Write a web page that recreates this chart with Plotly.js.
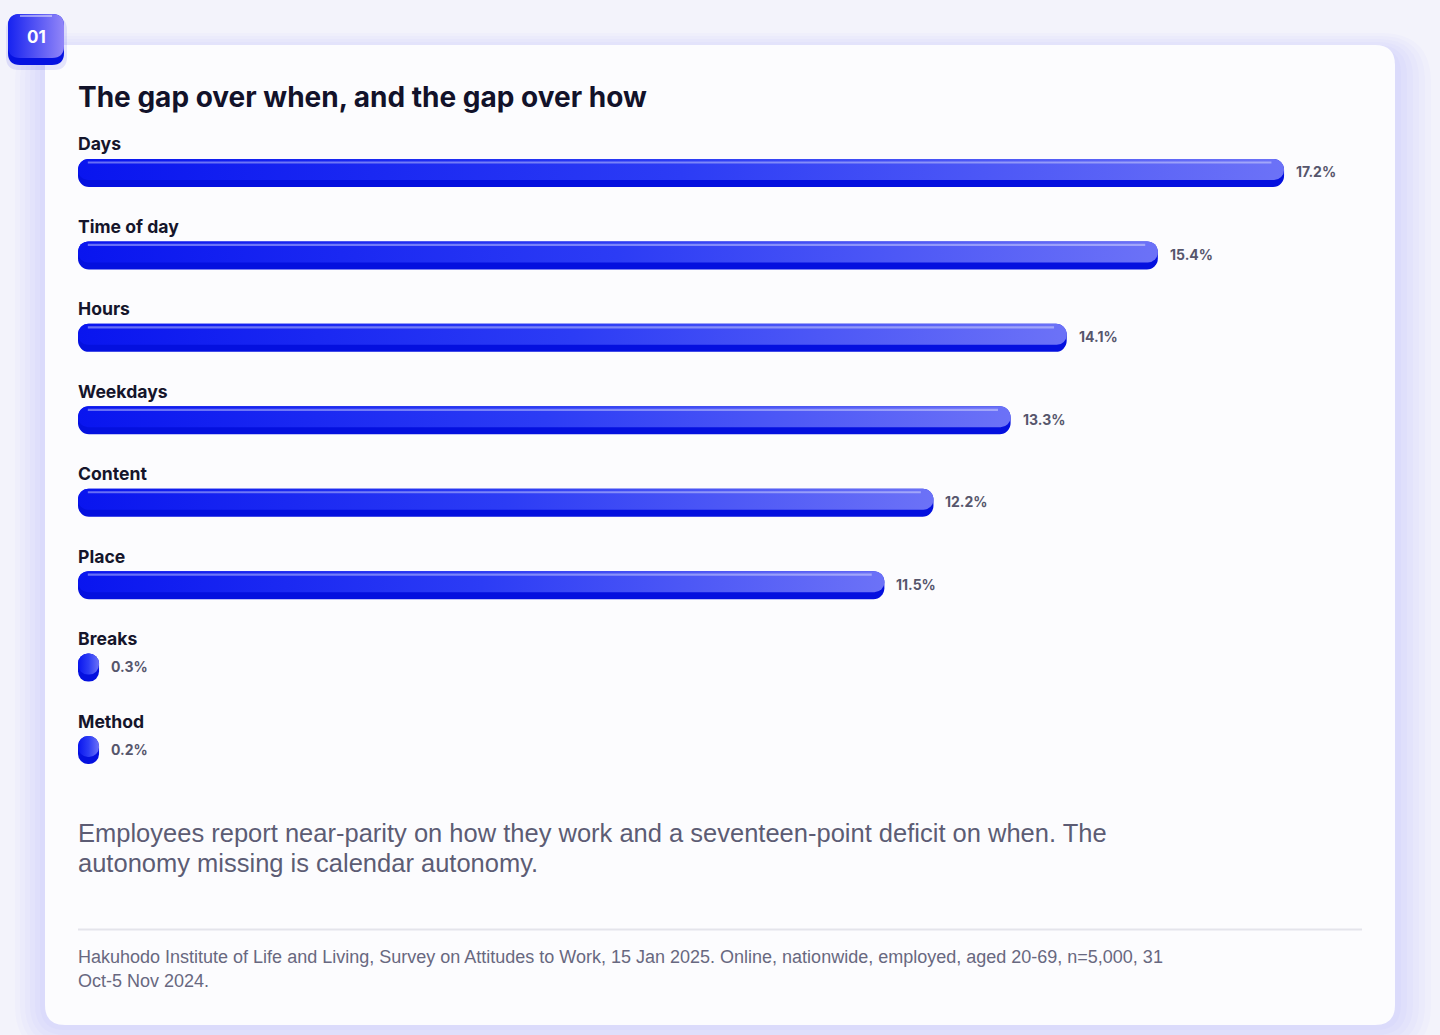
<!DOCTYPE html>
<html>
<head>
<meta charset="utf-8">
<script src="https://cdn.plot.ly/plotly-3.0.1.min.js"></script>
<style>
  html, body { margin: 0; padding: 0; background: #f3f3fb; }
  #chart { width: 1440px; height: 1035px; }
</style>
</head>
<body>
<div id="chart"></div>
<script>
// data
const categories = ['Days', 'Time of day', 'Hours', 'Weekdays', 'Content', 'Place', 'Breaks', 'Method'];
const gapValues = [17.2, 15.4, 14.1, 13.3, 12.2, 11.5, 0.3, 0.2];
const valueLabels = ['17.2%', '15.4%', '14.1%', '13.3%', '12.2%', '11.5%', '0.3%', '0.2%'];
const chartTitle = 'The gap over when, and the gap over how';
const captionLines = [
    'Employees report near-parity on how they work and a seventeen-point deficit on when. The',
    'autonomy missing is calendar autonomy.'
];
const sourceLines = [
    'Hakuhodo Institute of Life and Living, Survey on Attitudes to Work, 15 Jan 2025. Online, nationwide, employed, aged 20-69, n=5,000, 31',
    'Oct-5 Nov 2024.'
];
const badgeText = '01';

// page geometry (pixels -> paper)
const W = 1440, H = 1035;
const px = x => x / W;
const py = y => 1 - y / H;

// tiny values still get drawn as a small pill
const MIN_PILL = 0.3;
const drawn = gapValues.map(v => Math.max(v, MIN_PILL));
const zeros = drawn.map(() => 0);
const glint = drawn.map(v => v > 1 ? v - 0.32 : null);

function rrect(x0, y0, x1, y1, r) {
    const X = v => px(v).toFixed(5), Y = v => py(v).toFixed(5);
    return `M${X(x0 + r)},${Y(y0)} L${X(x1 - r)},${Y(y0)} Q${X(x1)},${Y(y0)} ${X(x1)},${Y(y0 + r)} ` +
        `L${X(x1)},${Y(y1 - r)} Q${X(x1)},${Y(y1)} ${X(x1 - r)},${Y(y1)} L${X(x0 + r)},${Y(y1)} ` +
        `Q${X(x0)},${Y(y1)} ${X(x0)},${Y(y1 - r)} L${X(x0)},${Y(y0 + r)} Q${X(x0)},${Y(y0)} ${X(x0 + r)},${Y(y0)} Z`;
}

// explicit base -> plotly rounds both ends of the bar
function pill(xs, base, offset, width, color, radius) {
    return {
        type: 'bar', orientation: 'h', y: categories, x: xs, base: base,
        offset: offset, width: width,
        marker: { color: color, cornerradius: radius, line: { width: 0 } },
        hoverinfo: 'skip', showlegend: false
    };
}

const traces = [
    pill(drawn, zeros, -0.17, 0.34, '#0410df', 11),          // dark lip
    pill(drawn, zeros, -0.17, 0.255, '#2a36f3', 10),         // face (gradient set below)
    pill(glint, 0.14, -0.14, 0.026, 'rgba(255,255,255,0.38)', 0)  // top glint
];

// card + badge
const shapes = [];
for (let k = 6; k >= 1; k--) {
    shapes.push({ type: 'path', xref: 'paper', yref: 'paper', layer: 'below',
        path: rrect(45 - k * 5, 45 - k * 3 + 6, 1395 + k * 6, 1025 + k * 5, 20 + k * 5),
        fillcolor: 'rgba(105,105,240,0.028)', line: { width: 0 } });
}
shapes.push({ type: 'path', xref: 'paper', yref: 'paper', layer: 'below',
    path: rrect(45, 45, 1395, 1025, 20), fillcolor: '#fcfcfe', line: { width: 0 } });
shapes.push({ type: 'line', xref: 'paper', yref: 'paper', layer: 'below',
    x0: px(78), x1: px(1362), y0: py(929.5), y1: py(929.5), line: { color: '#e4e4eb', width: 2 } });
shapes.push({ type: 'path', xref: 'paper', yref: 'paper', layer: 'below',
    path: rrect(6, 17, 67, 70, 13), fillcolor: 'rgba(60,60,235,0.12)', line: { width: 0 } });
shapes.push({ type: 'path', xref: 'paper', yref: 'paper', layer: 'below',
    path: rrect(8, 14, 64, 65, 12), fillcolor: '#0612e2', line: { width: 0 } });
const badgeFaceIndex = shapes.length;
shapes.push({ type: 'path', xref: 'paper', yref: 'paper', layer: 'below',
    path: rrect(8, 14, 64, 58, 12), fillcolor: '#4a4ff3', line: { width: 0 } });
shapes.push({ type: 'line', xref: 'paper', yref: 'paper', layer: 'below',
    x0: px(20), x1: px(52), y0: py(16), y1: py(16), line: { color: 'rgba(255,255,255,0.45)', width: 2 } });

// texts
const annotations = [];
annotations.push({ xref: 'paper', yref: 'paper', x: px(76), y: py(97), xanchor: 'left', yanchor: 'middle',
    text: chartTitle, showarrow: false, font: { family: 'Inter', size: 28, color: '#12122a', weight: 700 } });
annotations.push({ xref: 'paper', yref: 'paper', x: px(36), y: py(37), xanchor: 'center', yanchor: 'middle',
    text: badgeText, showarrow: false, font: { family: 'Inter', size: 17, color: '#ffffff', weight: 700 } });
categories.forEach((c, i) => {
    annotations.push({ xref: 'x', yref: 'y', x: 0, y: c, xanchor: 'left', yanchor: 'middle',
        xshift: -2, yshift: 29, text: c, showarrow: false,
        font: { family: 'Inter', size: 17.6, color: '#15152b', weight: 700 } });
    annotations.push({ xref: 'x', yref: 'y', x: drawn[i], y: c, xanchor: 'left', yanchor: 'middle',
        xshift: 10, yshift: 1, text: valueLabels[i], showarrow: false,
        font: { family: 'Inter', size: 14, color: '#56566c', weight: 700 } });
});
captionLines.forEach((t, i) => {
    annotations.push({ xref: 'paper', yref: 'paper', x: px(76), y: py(833 + i * 29.5), xanchor: 'left', yanchor: 'middle',
        text: t, showarrow: false, font: { family: 'Liberation Sans', size: 25.5, color: '#5c5c74' } });
});
sourceLines.forEach((t, i) => {
    annotations.push({ xref: 'paper', yref: 'paper', x: px(76), y: py(957 + i * 24), xanchor: 'left', yanchor: 'middle',
        text: t, showarrow: false, font: { family: 'Liberation Sans', size: 18, color: '#686880' } });
});

const layout = {
    width: W, height: H,
    margin: { l: 0, r: 0, t: 0, b: 0 },
    paper_bgcolor: '#f3f3fb', plot_bgcolor: 'rgba(0,0,0,0)',
    barmode: 'overlay',
    xaxis: { domain: [px(78), px(1362)], range: [0, 1284 / 70.12], visible: false, fixedrange: true },
    yaxis: { domain: [py(791.25), py(131.75)], type: 'category', categoryorder: 'array',
        categoryarray: categories, range: [7.5, -0.5], visible: false, fixedrange: true },
    shapes: shapes,
    annotations: annotations
};

Plotly.newPlot('chart', traces, layout, { staticPlot: true, displayModeBar: false }).then(gd => {
    const NS = 'http://www.w3.org/2000/svg';
    const defs = gd.querySelector('svg.main-svg defs');
    function addGrad(id, stops) {
        const g = document.createElementNS(NS, 'linearGradient');
        g.setAttribute('id', id);
        g.setAttribute('x1', 0); g.setAttribute('y1', 0);
        g.setAttribute('x2', 1); g.setAttribute('y2', 0);
        stops.forEach(s => {
            const st = document.createElementNS(NS, 'stop');
            st.setAttribute('offset', s[0]);
            st.setAttribute('stop-color', s[1]);
            g.appendChild(st);
        });
        defs.appendChild(g);
    }
    addGrad('barFace', [[0, '#0915ef'], [0.5, '#2c3cf5'], [1, '#6c72f7']]);
    addGrad('badgeFace', [[0, '#1622f0'], [1, '#9286f8']]);
    const layers = gd.querySelectorAll('.barlayer .trace');
    layers[1].querySelectorAll('.point path').forEach(p => { p.style.fill = 'url(#barFace)'; });
    const bf = gd.querySelector(`.shapelayer path[data-index="${badgeFaceIndex}"]`);
    if (bf) bf.style.fill = 'url(#badgeFace)';
});
</script>
</body>
</html>
